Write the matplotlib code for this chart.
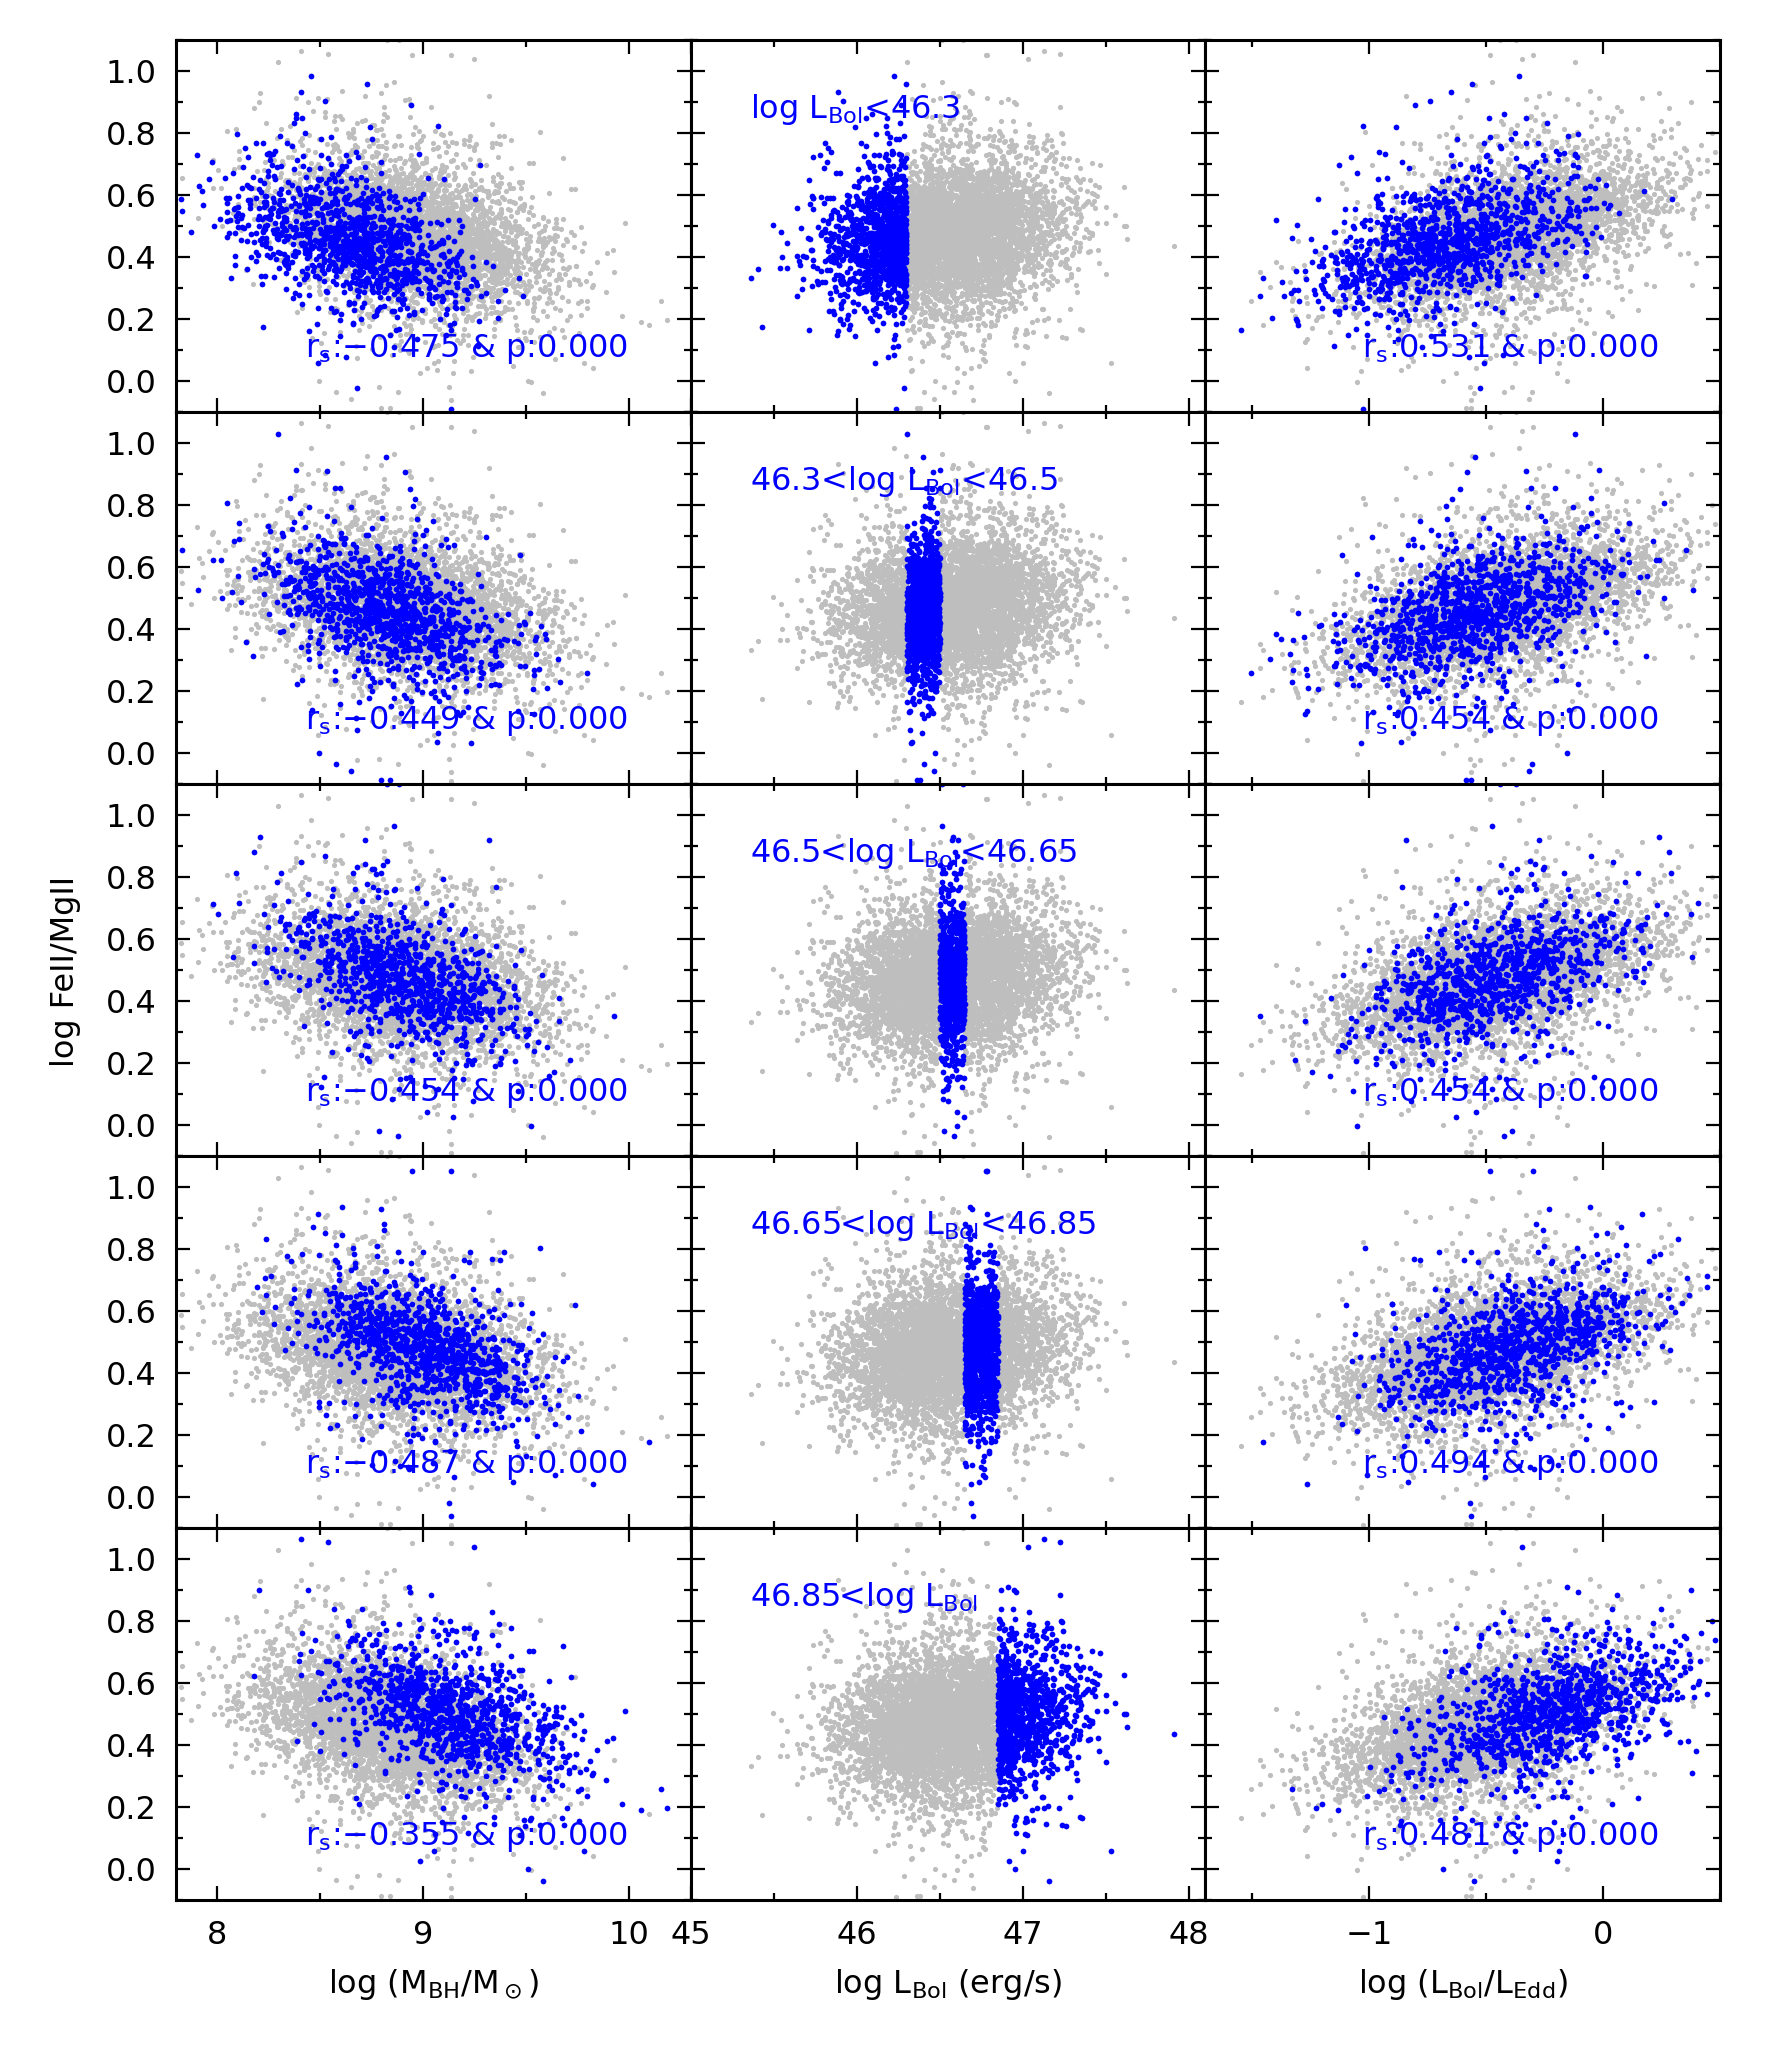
import numpy as np
import matplotlib
matplotlib.use("Agg")
import matplotlib.pyplot as plt
from matplotlib.ticker import MultipleLocator

# luminosity bins, one per row (as written in the middle panels)
bin_lo = [-np.inf, 46.3, 46.5, 46.65, 46.85]
bin_hi = [46.3, 46.5, 46.65, 46.85, np.inf]
bin_labels = [r"log L$_{\rm Bol}$<46.3",
              r"46.3<log L$_{\rm Bol}$<46.5",
              r"46.5<log L$_{\rm Bol}$<46.65",
              r"46.65<log L$_{\rm Bol}$<46.85",
              r"46.85<log L$_{\rm Bol}$"]

# Spearman values printed in the left / right columns
rs_mbh = ["\u22120.475", "\u22120.449", "\u22120.454", "\u22120.487", "\u22120.355"]
rs_edd = ["0.531", "0.454", "0.454", "0.494", "0.481"]

# The clouds are far too dense to read point by point, so the sample is
# drawn (fixed seed) to the centres / spreads / slopes.
n_quasars = 5500
lbol_centre, lbol_sd = 46.57, 0.33
mbh_centre, mbh_lbol_slope, mbh_sd = 8.9, 0.52, 0.28
edd_offset = 38.13          # log L_Edd = log M_BH + 38.13
fe_centre, fe_edd_slope, fe_lbol_slope, fe_sd = 0.47, 0.22, -0.04, 0.088

rng = np.random.default_rng(7)
lbol = rng.normal(lbol_centre, lbol_sd, n_quasars)
mbh = mbh_centre + mbh_lbol_slope * (lbol - lbol_centre) + rng.normal(0, mbh_sd, n_quasars)
edd = lbol - mbh - edd_offset
fe = (fe_centre + fe_edd_slope * (edd - edd.mean())
      + fe_lbol_slope * (lbol - lbol_centre)
      + fe_sd * rng.standard_t(4, n_quasars))

xdata = [mbh, lbol, edd]
xlims = [(7.8, 10.3), (45.0, 48.1), (-1.7, 0.5)]
xlabels = [r"log (M$_{\rm BH}$/M$_\odot$)",
           r"log L$_{\rm Bol}$ (erg/s)",
           r"log (L$_{\rm Bol}$/L$_{\rm Edd}$)"]

FS = 23
grey = "#bebebe"
blue = "#0000ff"

fig, axes = plt.subplots(5, 3, figsize=(17.7, 20.66), dpi=100,
                         sharex="col", sharey=True)
fig.subplots_adjust(left=0.0994, right=0.9718, top=0.9806, bottom=0.0803,
                    wspace=0, hspace=0)

for i in range(5):
    sel = (lbol >= bin_lo[i]) & (lbol < bin_hi[i])
    for j in range(3):
        ax = axes[i, j]
        x = xdata[j]
        ax.scatter(x, fe, s=14, c=grey, linewidths=0)
        ax.scatter(x[sel], fe[sel], s=17, c=blue, linewidths=0)

        ax.set_xlim(*xlims[j])
        ax.set_ylim(-0.1, 1.1)
        ax.xaxis.set_major_locator(MultipleLocator(1))
        ax.xaxis.set_minor_locator(MultipleLocator(0.5))
        ax.yaxis.set_major_locator(MultipleLocator(0.2))
        ax.yaxis.set_minor_locator(MultipleLocator(0.1))
        ax.tick_params(which="both", direction="in", top=True, right=True,
                       labelsize=FS, width=1.6)
        ax.tick_params(which="major", length=10, pad=14)
        ax.tick_params(which="minor", length=5)
        for sp in ax.spines.values():
            sp.set_linewidth(2.2)

        # x in axes fraction, y in data units
        tr = ax.get_yaxis_transform()
        if j == 0:
            ax.text(0.878, 0.077, r"r$_{\rm s}$:" + rs_mbh[i] + " & p:0.000",
                    transform=tr, ha="right", va="baseline", color=blue, fontsize=FS)
        elif j == 2:
            ax.text(0.88, 0.077, r"r$_{\rm s}$:" + rs_edd[i] + " & p:0.000",
                    transform=tr, ha="right", va="baseline", color=blue, fontsize=FS)
        else:
            ax.text(0.115, 0.85, bin_labels[i], transform=tr, ha="left",
                    va="baseline", color=blue, fontsize=FS)

for j in range(3):
    axes[4, j].set_xlabel(xlabels[j], fontsize=FS, labelpad=12)

fig.text(0.037, 0.53, "log FeII/MgII", rotation=90, ha="center", va="center",
         fontsize=FS)

fig.savefig("out.png", dpi=100)
